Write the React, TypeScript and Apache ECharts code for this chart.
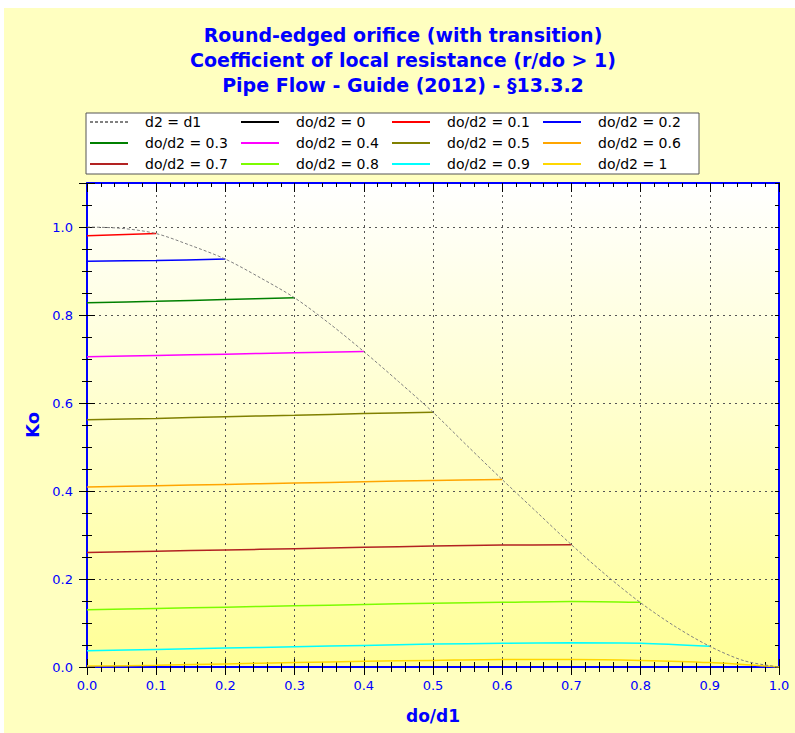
import React, { useEffect, useRef } from "react";
import * as echarts from "echarts";

// ---- data ----
const titleLines = [
  "Round-edged orifice (with transition)",
  "Coefficient of local resistance (r/do > 1)",
  "Pipe Flow - Guide (2012) - §13.3.2",
];
const xAxisName = "do/d1";
const yAxisName = "Ko";

// boundary curve d2 = d1
const boundaryX = [0, 0.05, 0.1, 0.15, 0.2, 0.25, 0.3, 0.35, 0.4, 0.45, 0.5, 0.55, 0.6, 0.65, 0.7, 0.75, 0.8, 0.85, 0.9, 0.95, 1.0];
const boundaryKo = [1.0, 0.997, 0.985, 0.958, 0.927, 0.885, 0.839, 0.781, 0.717, 0.649, 0.579, 0.502, 0.426, 0.352, 0.278, 0.209, 0.146, 0.092, 0.047, 0.014, 0.0];

// do/d1 sample positions for the do/d2 curves
const doD1 = [0, 0.1, 0.2, 0.3, 0.4, 0.5, 0.6, 0.7, 0.8, 0.9, 1.0];
const ko00 = [1.0];
const ko01 = [0.98, 0.985];
const ko02 = [0.922, 0.924, 0.927];
const ko03 = [0.828, 0.831, 0.835, 0.839];
const ko04 = [0.705, 0.708, 0.711, 0.714, 0.717];
const ko05 = [0.562, 0.565, 0.569, 0.572, 0.576, 0.579];
const ko06 = [0.409, 0.412, 0.415, 0.418, 0.421, 0.424, 0.426];
const ko07 = [0.26, 0.263, 0.266, 0.269, 0.272, 0.275, 0.277, 0.278];
const ko08 = [0.13, 0.133, 0.136, 0.139, 0.142, 0.145, 0.147, 0.149, 0.147];
const ko09 = [0.037, 0.04, 0.043, 0.046, 0.049, 0.052, 0.054, 0.055, 0.054, 0.047];
const ko10 = [0.002, 0.004, 0.007, 0.01, 0.013, 0.015, 0.017, 0.017, 0.015, 0.01, 0.0];

const curveNames = [
  "do/d2 = 0", "do/d2 = 0.1", "do/d2 = 0.2", "do/d2 = 0.3", "do/d2 = 0.4", "do/d2 = 0.5",
  "do/d2 = 0.6", "do/d2 = 0.7", "do/d2 = 0.8", "do/d2 = 0.9", "do/d2 = 1",
];
const curveValues = [ko00, ko01, ko02, ko03, ko04, ko05, ko06, ko07, ko08, ko09, ko10];
const curveColors = [
  "#000000", "#FF0000", "#0000FF", "#008000", "#FF00FF", "#808000",
  "#FFA500", "#B22222", "#7CFC00", "#00FFFF", "#FFD700",
];

const BLUE = "#0000FF";
const FONT = "DejaVu Sans";

export default function App() {
  const ref = useRef<HTMLDivElement>(null);

  useEffect(() => {
    if (!ref.current) return;
    const chart = echarts.init(ref.current, undefined, { renderer: "svg" });

    const gridL = 87, gridT = 183, gridR = 16, gridB = 66;
    const W = 795, H = 733;

    const tickAxisX = (position: string, interval: number, inside: boolean, len: number, extra: any = {}) => ({
      type: "value", min: 0, max: 1, interval, position,
      axisLine: { show: false, onZero: false },
      axisTick: { show: true, inside, length: len, lineStyle: { color: "#000", width: 1 } },
      axisLabel: { show: false },
      splitLine: { show: false },
      ...extra,
    });
    const tickAxisY = (position: string, interval: number, inside: boolean, len: number, extra: any = {}) => ({
      type: "value", min: 0, max: 1.1, interval, position,
      axisLine: { show: false, onZero: false },
      axisTick: { show: true, inside, length: len, lineStyle: { color: "#000", width: 1 } },
      axisLabel: { show: false },
      splitLine: { show: false },
      ...extra,
    });

    const series: any[] = [
      {
        name: "d2 = d1",
        type: "line",
        xAxisIndex: 0, yAxisIndex: 0,
        data: boundaryX.map((x, i) => [x, boundaryKo[i]]),
        showSymbol: false, symbol: "none", smooth: 0.3,
        lineStyle: { color: "#808080", width: 1, type: [3, 2] },
        itemStyle: { color: "#808080" },
        z: 5,
      },
    ];
    curveNames.forEach((name, k) => {
      series.push({
        name,
        type: "line",
        xAxisIndex: 0, yAxisIndex: 0,
        data: curveValues[k].map((v, i) => [doD1[i], v]),
        showSymbol: false, symbol: "none", smooth: 0.3,
        lineStyle: { color: curveColors[k], width: 1.5 },
        itemStyle: { color: curveColors[k] },
        z: 4,
      });
    });

    chart.setOption({
      animation: false,
      backgroundColor: "#FFFFFF",
      graphic: [
        { type: "rect", z: -100, shape: { x: 4, y: 8, width: W - 4, height: H - 8 }, style: { fill: "#FFFFC0" } },
        {
          type: "rect", z: -90,
          shape: { x: gridL, y: gridT, width: W - gridL - gridR, height: H - gridT - gridB },
          style: {
            fill: new echarts.graphic.LinearGradient(0, 0, 0, 1, [
              { offset: 0, color: "#FFFFFF" },
              { offset: 1, color: "#FFFF96" },
            ]),
          },
        },
        ...titleLines.map((t, i) => ({
          type: "text",
          x: 403,
          y: 35 + i * 25,
          style: {
            text: t,
            fill: BLUE,
            font: `bold 19px "${FONT}"`,
            textAlign: "center",
            textVerticalAlign: "middle",
          },
        })),
      ],
      legend: {
        left: 86, top: 113, width: 700,
        padding: [2, 13, 3, 3],
        backgroundColor: "#FFFFFF",
        borderColor: "#555555", borderWidth: 1,
        itemWidth: 38, itemHeight: 11, itemGap: 7,
        itemStyle: { opacity: 0 },
        textStyle: { fontFamily: FONT, fontSize: 14, color: "#000", width: 88, padding: [0, 0, 0, 12], lineHeight: 11 },
        data: ["d2 = d1", ...curveNames],
      },
      grid: { left: gridL, top: gridT, right: gridR, bottom: gridB, containLabel: false },
      xAxis: [
        {
          type: "value", min: 0, max: 1, interval: 0.1, position: "bottom",
          axisLine: { show: true, onZero: false, lineStyle: { color: BLUE, width: 2 } },
          axisTick: { show: true, inside: true, length: 8, lineStyle: { color: "#000" } },
          axisLabel: { color: BLUE, fontFamily: FONT, fontSize: 13, margin: 12, formatter: (v: number) => v.toFixed(1) },
          splitLine: { show: true, lineStyle: { color: "#555", type: [2, 4], width: 1 } },
          name: xAxisName, nameLocation: "middle", nameGap: 40,
          nameTextStyle: { color: BLUE, fontFamily: FONT, fontSize: 17, fontWeight: "bold" },
        },
        tickAxisX("bottom", 0.1, false, 8),
        tickAxisX("bottom", 0.02, true, 5),
        tickAxisX("bottom", 0.02, false, 5),
        tickAxisX("top", 0.1, true, 9, { axisLine: { show: true, onZero: false, lineStyle: { color: BLUE, width: 2 } } }),
        tickAxisX("top", 0.02, true, 4),
      ],
      yAxis: [
        {
          type: "value", min: 0, max: 1.1, interval: 0.2, position: "left",
          axisLine: { show: true, onZero: false, lineStyle: { color: BLUE, width: 2 } },
          axisTick: { show: true, inside: true, length: 8, lineStyle: { color: "#000" } },
          axisLabel: {
            color: BLUE, fontFamily: FONT, fontSize: 13, margin: 14,
            formatter: (v: number) => (v > 1.05 ? "" : v.toFixed(1)),
          },
          splitLine: { show: true, lineStyle: { color: "#555", type: [2, 4], width: 1 } },
          name: yAxisName, nameLocation: "middle", nameGap: 46, nameRotate: 90,
          nameTextStyle: { color: BLUE, fontFamily: FONT, fontSize: 18, fontWeight: "bold" },
        },
        tickAxisY("left", 0.2, false, 8),
        tickAxisY("left", 0.05, true, 5),
        tickAxisY("left", 0.05, false, 5),
        tickAxisY("right", 0.05, true, 4, { axisLine: { show: true, onZero: false, lineStyle: { color: BLUE, width: 2 } } }),
      ],
      series,
    });

    return () => chart.dispose();
  }, []);

  return (
    <div
      ref={ref}
      style={{ position: "fixed", left: 0, top: 0, width: 795, height: 733 }}
    />
  );
}
